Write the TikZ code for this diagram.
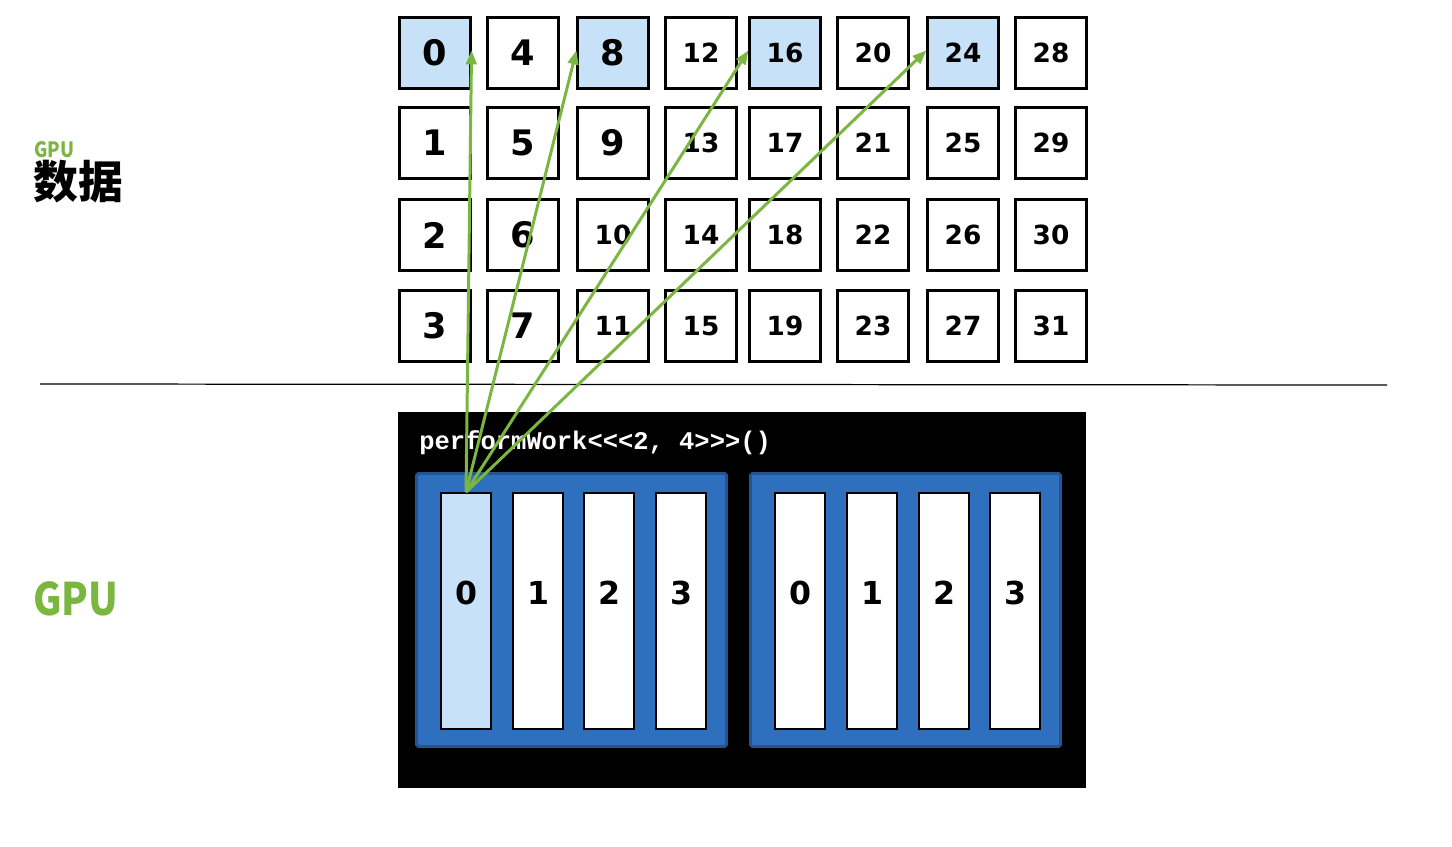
\documentclass[tikz,border=0pt]{standalone}
\usepackage{fontspec}
\setmonofont{Liberation Mono}
\newfontfamily\cjkfont{Noto Sans CJK SC}
\newfontfamily\gpufont{Noto Sans CJK SC}[FakeStretch=0.87]
\newfontfamily\numfont{DejaVu Sans}
\usetikzlibrary{arrows.meta, positioning}

\definecolor{gpugreen}{RGB}{122,182,64}
\definecolor{lightcell}{RGB}{199,226,248}
\definecolor{blockblue}{RGB}{46,111,190}
\definecolor{blockedge}{RGB}{38,84,145}

\begin{document}
\begin{tikzpicture}[x=0.02cm, y=-0.02cm,
        cell/.style = {
            rectangle,
            draw,
            line width=1.2pt,
            fill=white,
            minimum size=1.42cm,
            inner sep=0pt,
            font = \numfont\bfseries
        },
        hot/.style = {cell, fill=lightcell},
        block/.style = {
            rectangle,
            draw=blockedge,
            fill=blockblue,
            line width=1.5pt,
            rounded corners=1pt,
            minimum width=6.2cm,
            minimum height=5.46cm
        },
        thread/.style = {
            rectangle,
            draw,
            fill=white,
            line width=1pt,
            minimum width=1cm,
            minimum height=4.72cm,
            inner sep=0pt
        },
        tnum/.style = {
            yshift=0.36cm,
            font = \numfont\bfseries\fontsize{18}{18}\selectfont
        },
        link/.style = {
            -{Triangle[length=8pt, width=6pt]},
            gpugreen,
            line width=1.7pt
        }
    ]
    \useasboundingbox (0,0) rectangle (1452,846);

    % side labels
    \node (gpusmall) [anchor=base west, inner sep=0pt, text=gpugreen,
        font=\gpufont\bfseries\fontsize{12}{12}\selectfont] at (34,157) {GPU};
    \node (data) [anchor=west, inner sep=0pt,
        font=\cjkfont\bfseries\fontsize{25.5}{25.5}\selectfont] at (33,182) {数据};
    \node (gpubig) [anchor=base west, inner sep=0pt, text=gpugreen,
        font=\gpufont\bfseries\fontsize{25.5}{25.5}\selectfont] at (33,615) {GPU};

    % data grid
    \foreach \x [count=\c from 0] in {435,523,613,701,785,873,963,1051} {
        \foreach \y [count=\r from 0] in {53,143,235,326} {
            \pgfmathtruncatemacro\idx{4*\c+\r}
            \ifnum\r=0 \ifodd\c \def\kind{cell}\else \def\kind{hot}\fi
            \else \def\kind{cell}\fi
            \ifnum\idx<10
                \node (c\idx) [\kind] at (\x,\y) {\fontsize{20}{20}\selectfont\idx};
            \else
                \node (c\idx) [\kind] at (\x,\y) {\fontsize{15}{15}\selectfont\idx};
            \fi
        }
    }

    \coordinate (sepL) at (40,384);
    \coordinate (sepR) at (1387,385);
    \draw[line width=0.7pt] (sepL) -- (sepR);

    % kernel launch
    \node (gpu) [rectangle, fill=black, minimum width=13.76cm, minimum height=7.52cm] at (742,600) {};
    \node (kernel) [anchor=base west, inner sep=0pt, text=white,
        font=\ttfamily\bfseries\fontsize{14.5}{14.5}\selectfont] at (419,449) {performWork<<<2, 4>>>()};

    \node (blockA) [block] at (571.5,610) {};
    \node (blockB) [block] at (905.5,610) {};

    \foreach \x [count=\t from 0] in {466,538,609,681} {
        \ifnum\t=0
            \node (ta\t) [thread, fill=lightcell, label={[tnum]center:\t}] at (\x,611) {};
        \else
            \node (ta\t) [thread, label={[tnum]center:\t}] at (\x,611) {};
        \fi
    }
    \foreach \x [count=\t from 0] in {800,872,944,1015} {
        \node (tb\t) [thread, label={[tnum]center:\t}] at (\x,611) {};
    }

    \foreach \dst in {c0.east, c8.west, c16.west, c24.west}
        \draw[link] (ta0.north) -- ([yshift=1.5pt]\dst);
\end{tikzpicture}
\end{document}
